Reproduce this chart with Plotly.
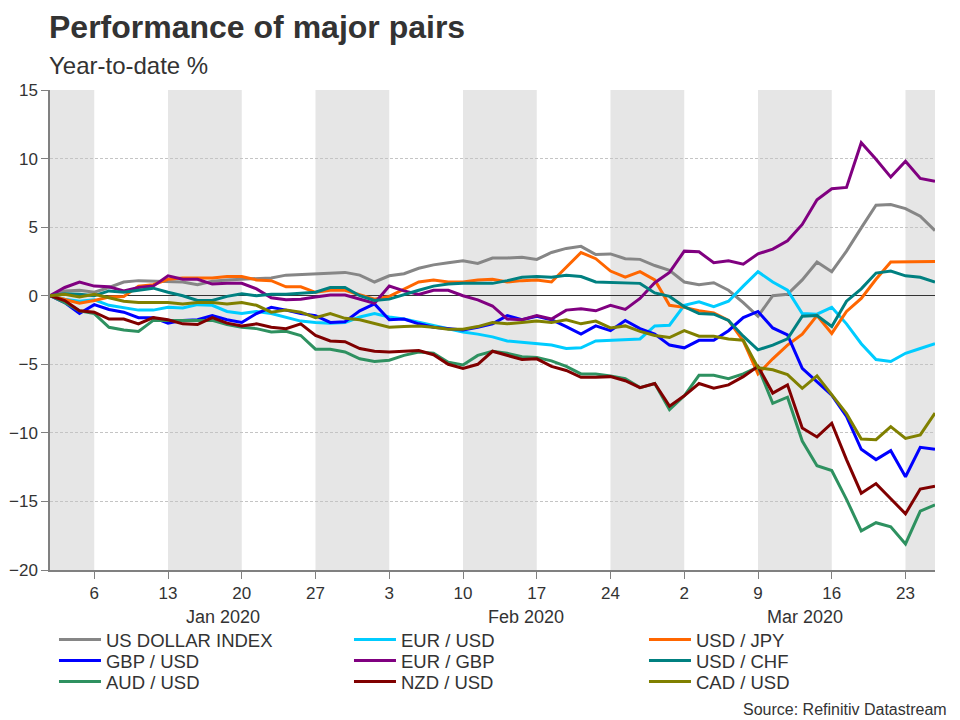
import plotly.graph_objects as go
import pandas as pd

# Trading days, 1 Jan 2020 .. 25 Mar 2020 (61 days)
dates = pd.bdate_range("2020-01-01", "2020-03-25")

series_names = ["US DOLLAR INDEX", "EUR / USD", "USD / JPY",
                "GBP / USD", "EUR / GBP", "USD / CHF",
                "AUD / USD", "NZD / USD", "CAD / USD"]

usd_index = [0, 0.35, 0.4, 0.25, 0.6, 1.0, 1.1, 1.05, 1.0, 1.0, 0.8, 1.05, 1.15, 1.2, 1.2, 1.3, 1.5, 1.55, 1.6, 1.7,
             1.7, 1.5, 1.0, 1.45, 1.6, 2.0, 2.25, 2.4, 2.55, 2.35, 2.75, 2.75, 2.8, 2.65, 3.15, 3.45, 3.6, 3.0, 3.05, 2.7,
             2.65, 2.2, 1.85, 1.0, 0.8, 0.95, 0.4, -0.5, -1.5, 0.0, 0.1, 1.15, 2.45, 1.75, 3.25, 4.95, 6.6, 6.65, 6.35, 5.8,
             4.75]
eur_usd = [0, -0.25, -0.4, -0.3, -0.7, -0.85, -1.05, -1.05, -0.85, -0.9, -0.65, -0.7, -1.15, -1.3, -1.15, -1.3, -1.6, -1.85, -1.95, -2.0,
           -1.95, -1.55, -1.3, -1.55, -1.7, -1.95, -2.2, -2.4, -2.65, -2.8, -3.0, -3.3, -3.4, -3.5, -3.6, -3.85, -3.8, -3.3, -3.25, -3.15,
           -3.15, -2.2, -2.15, -0.7, -0.45, -0.8, -0.4, 0.7, 1.75, 1.0, 0.4, -1.3, -1.35, -0.85, -2.05, -3.5, -4.65, -4.8, -4.2, -3.85,
           -3.5]
usd_jpy = [0, -0.3, -0.55, -0.35, -0.1, -0.05, 0.7, 0.8, 1.2, 1.3, 1.3, 1.3, 1.4, 1.4, 1.15, 1.1, 0.65, 0.65, 0.25, 0.4,
           0.4, 0.1, -0.25, -0.05, 0.5, 1.0, 1.15, 1.0, 1.0, 1.15, 1.2, 1.0, 1.1, 1.15, 1.0, 2.05, 3.15, 2.7, 1.8, 1.35,
           1.75, 1.15, -0.7, -0.85, -1.1, -1.25, -1.8, -3.3, -5.7, -4.6, -3.6, -2.8, -1.45, -2.75, -1.15, -0.2, 1.2, 2.45, 2.45, 2.5,
           2.5]
gbp_usd = [0, -0.5, -1.3, -0.65, -1.0, -1.2, -1.6, -1.6, -2.0, -1.8, -1.75, -1.45, -1.75, -1.95, -1.3, -0.85, -1.05, -1.3, -1.45, -1.95,
           -1.9, -1.1, -0.6, -1.75, -1.7, -2.05, -2.3, -2.4, -2.5, -2.3, -2.05, -1.45, -1.75, -1.5, -1.75, -2.25, -2.8, -2.2, -2.55, -1.8,
           -2.4, -2.8, -3.6, -3.8, -3.25, -3.25, -2.55, -1.6, -1.15, -2.35, -2.85, -5.3, -6.3, -7.25, -8.8, -11.2, -11.95, -11.3, -13.2, -11.05,
           -11.2]
eur_gbp = [0, 0.6, 1.0, 0.7, 0.65, 0.35, 0.6, 0.7, 1.45, 1.2, 1.2, 0.85, 0.9, 0.9, 0.5, -0.15, -0.3, -0.25, -0.1, 0.05,
           0.05, -0.25, -0.55, 0.7, 0.35, 0.1, 0.4, 0.4, 0.0, -0.3, -0.75, -1.7, -1.75, -1.45, -1.7, -1.05, -0.95, -1.1, -0.7, -1.0,
           -0.2, 0.95, 1.7, 3.25, 3.2, 2.4, 2.55, 2.3, 3.05, 3.4, 4.0, 5.2, 7.0, 7.8, 7.9, 11.15, 9.95, 8.65, 9.8, 8.55,
           8.35]
usd_chf = [0, 0.15, 0.1, 0.0, 0.35, 0.25, 0.4, 0.55, 0.25, 0.0, -0.35, -0.35, -0.05, 0.15, 0.0, 0.1, 0.1, 0.15, 0.25, 0.6,
           0.6, 0.0, -0.35, -0.25, 0.1, 0.4, 0.7, 0.85, 0.9, 0.9, 0.9, 1.1, 1.35, 1.4, 1.35, 1.5, 1.4, 1.0, 0.95, 0.9,
           0.9, 0.2, -0.05, -0.8, -1.3, -1.35, -1.8, -2.95, -3.95, -3.6, -3.15, -1.5, -1.45, -2.25, -0.4, 0.5, 1.65, 1.8, 1.45, 1.35,
           1.0]
aud_usd = [0, -0.5, -1.1, -1.3, -2.3, -2.5, -2.6, -1.8, -1.8, -1.8, -1.8, -1.8, -2.1, -2.3, -2.4, -2.65, -2.6, -2.9, -3.9, -3.9,
           -4.1, -4.6, -4.8, -4.7, -4.35, -4.1, -4.2, -4.85, -5.05, -4.35, -4.05, -4.2, -4.45, -4.5, -4.75, -5.15, -5.7, -5.7, -5.85, -6.05,
           -6.7, -6.4, -8.3, -7.3, -5.8, -5.8, -6.05, -5.7, -5.2, -7.85, -7.4, -10.6, -12.4, -12.75, -14.85, -17.15, -16.55, -16.85, -18.1, -15.7,
           -15.25]
nzd_usd = [0, -0.35, -1.1, -1.2, -1.7, -1.7, -2.05, -1.6, -1.75, -2.05, -2.1, -1.6, -2.0, -2.2, -2.05, -2.3, -2.4, -2.05, -2.9, -3.3,
           -3.35, -3.85, -4.05, -4.1, -4.05, -4.0, -4.3, -5.0, -5.3, -5.0, -4.05, -4.35, -4.65, -4.6, -5.15, -5.45, -5.95, -5.95, -5.9, -6.2,
           -6.7, -6.4, -8.05, -7.3, -6.4, -6.75, -6.5, -5.9, -5.15, -7.1, -6.5, -9.65, -10.3, -9.3, -11.95, -14.4, -13.7, -14.8, -15.9, -14.1,
           -13.9]
cad_usd = [0, 0.1, -0.1, 0.1, -0.15, -0.4, -0.5, -0.5, -0.5, -0.6, -0.5, -0.5, -0.6, -0.5, -0.7, -1.2, -1.05, -1.2, -1.6, -1.3,
           -1.65, -1.75, -2.0, -2.3, -2.25, -2.2, -2.3, -2.45, -2.45, -2.25, -1.95, -2.05, -1.95, -1.85, -1.95, -1.75, -2.05, -1.85, -2.35, -2.2,
           -2.6, -2.9, -3.05, -2.55, -2.95, -2.95, -3.15, -3.25, -5.25, -5.4, -5.75, -6.75, -5.85, -7.25, -8.6, -10.45, -10.5, -9.55, -10.4, -10.15,
           -8.55]

series_values = [usd_index, eur_usd, usd_jpy, gbp_usd, eur_gbp, usd_chf, aud_usd, nzd_usd, cad_usd]
series_colors = ["#868686", "#00CCFF", "#FF6600", "#0000FF", "#800080", "#008080",
                 "#2E9160", "#800000", "#808000"]
legend_rows = ["legend", "legend", "legend", "legend2", "legend2", "legend2",
               "legend3", "legend3", "legend3"]

tick_dates = ["2020-01-06", "2020-01-13", "2020-01-20", "2020-01-27", "2020-02-03", "2020-02-10",
              "2020-02-17", "2020-02-24", "2020-03-02", "2020-03-09", "2020-03-16", "2020-03-23"]
tick_labels = ["6", "13", "20", "27", "3", "10", "17", "24", "2", "9", "16", "23"]
month_labels = ["Jan 2020", "Feb 2020", "Mar 2020"]
month_label_x = ["2020-01-16 18:00", "2020-02-14 07:00", "2020-03-12 05:00"]
y_ticks = [15, 10, 5, 0, -5, -10, -15, -20]

FONT = "Liberation Sans, Arial, sans-serif"
TXT = "#333333"

fig = go.Figure()
for name, vals, col, lg in zip(series_names, series_values, series_colors, legend_rows):
    assert len(vals) == len(dates), name
    fig.add_trace(go.Scatter(x=dates, y=vals, name=name, mode="lines", legend=lg,
                             line=dict(color=col, width=3)))

# alternating weekly shading
start, end = str(dates[0].date()), str(dates[-1].date())
edges = [start] + tick_dates + [end]
shapes = []
for k in range(0, len(edges) - 1, 2):
    shapes.append(dict(type="rect", xref="x", yref="paper", x0=edges[k], x1=edges[k + 1],
                       y0=0, y1=1, fillcolor="#E6E6E6", line=dict(width=0), layer="below"))

annotations = [
    dict(text="<b>Performance of major pairs</b>", xref="paper", yref="paper", x=-0.003, y=1.131,
         xanchor="left", yanchor="middle", showarrow=False, font=dict(size=32, color=TXT, family=FONT)),
    dict(text="Year-to-date %", xref="paper", yref="paper", x=-0.003, y=1.05,
         xanchor="left", yanchor="middle", showarrow=False, font=dict(size=24, color=TXT, family=FONT)),
    dict(text="Source: Refinitiv Datastream", xref="paper", yref="paper", x=1.0155, y=-0.2896,
         xanchor="right", yanchor="middle", showarrow=False, font=dict(size=16, color=TXT, family=FONT)),
]
for lab, xm in zip(month_labels, month_label_x):
    annotations.append(dict(text=lab, xref="x", yref="paper", x=xm, y=-0.098, xanchor="center",
                            yanchor="middle", showarrow=False, font=dict(size=18, color=TXT, family=FONT)))


def legend_row(ypos):
    return dict(orientation="h", x=0.0045, xanchor="left", y=ypos, yanchor="middle",
                entrywidth=238, entrywidthmode="pixels", itemwidth=42,
                font=dict(size=18.5, color=TXT, family=FONT), traceorder="normal",
                bgcolor="rgba(0,0,0,0)")


# the page adds an 8 px body margin, so the figure is 8 px smaller and the
# left/top margins 8 px narrower to keep the plot area at 50..935 x 90..570
fig.update_layout(
    width=952, height=712,
    margin=dict(l=42, r=25, t=82, b=150, autoexpand=False),
    plot_bgcolor="white", paper_bgcolor="white",
    font=dict(family=FONT, size=17, color=TXT),
    shapes=shapes, annotations=annotations,
    showlegend=True,
    legend=legend_row(-0.1458),
    legend2=legend_row(-0.1896),
    legend3=legend_row(-0.2333),
    xaxis=dict(type="date", range=[start, end], rangebreaks=[dict(bounds=["sat", "mon"])],
               tickmode="array", tickvals=tick_dates, ticktext=tick_labels,
               ticks="outside", ticklen=7, tickcolor="#808080", tickwidth=1.2,
               showline=True, linecolor="#808080", linewidth=1.5, showgrid=False, zeroline=False,
               tickfont=dict(size=17, color=TXT)),
    yaxis=dict(range=[-20, 15], tickmode="array", tickvals=y_ticks,
               ticks="outside", ticklen=7, tickcolor="#808080", tickwidth=1.2,
               showline=True, linecolor="#808080", linewidth=1.5,
               showgrid=True, gridcolor="#C4C4C4", griddash="3px,2px", gridwidth=1,
               zeroline=True, zerolinecolor="#333333", zerolinewidth=1.2,
               tickfont=dict(size=17, color=TXT)),
)

fig.write_html("out.html")
